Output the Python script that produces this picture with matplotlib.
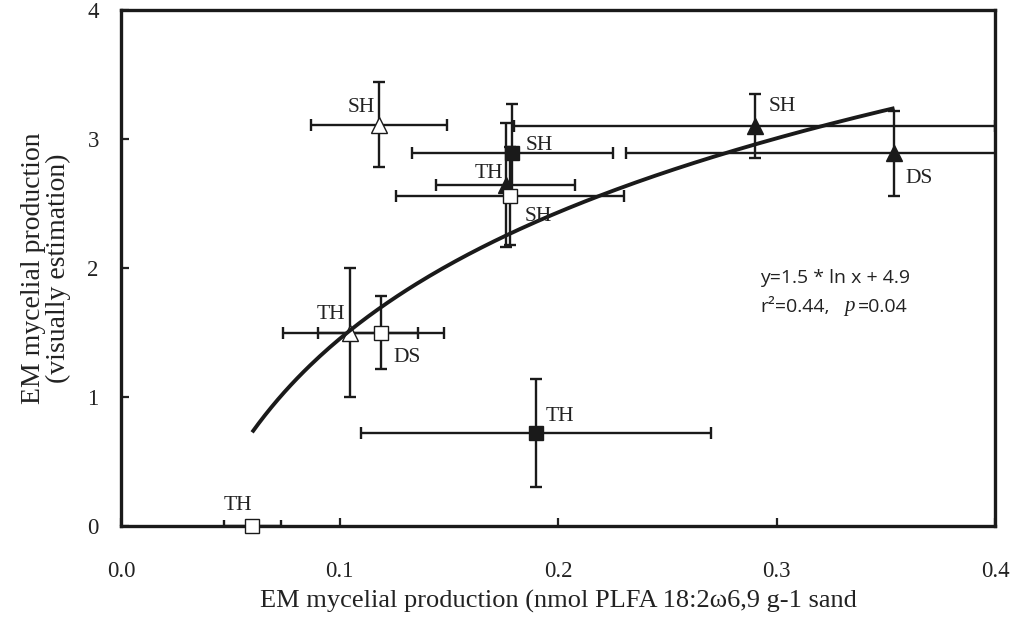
import numpy as np
import matplotlib
matplotlib.use("Agg")
import matplotlib.pyplot as plt

# ---- data ----
x_vals = [0.118, 0.179, 0.176, 0.178, 0.105, 0.119, 0.060, 0.190, 0.290, 0.354]
y_vals = [3.11, 2.89, 2.645, 2.56, 1.50, 1.50, 0.00, 0.72, 3.10, 2.89]
x_err = [0.031, 0.046, 0.032, 0.052, 0.031, 0.029, 0.013, 0.080, 0.110, 0.123]
y_err = [0.33, 0.38, 0.48, 0.38, 0.50, 0.28, 0.00, 0.42, 0.25, 0.33]
labels = ["SH", "SH", "TH", "SH", "TH", "DS", "TH", "TH", "SH", "DS"]
marker_kind = ["^", "s", "^", "s", "^", "s", "s", "s", "^", "^"]
filled = [False, True, True, False, False, False, False, True, True, True]

# fitted log curve (as drawn)
fit_a, fit_b = 1.416, 4.71
fit_xmin, fit_xmax = 0.060, 0.354

x_ticks = [0.0, 0.1, 0.2, 0.3, 0.4]
y_ticks = [0, 1, 2, 3, 4]

# label offsets (pixels) - style/position only
label_offsets = [(-18, 17), (27, 8), (-17, 11), (28, -21), (-20, 18),
                 (26, -25), (-14, 21), (24, 17), (28, 20), (25, -25)]

fig = plt.figure(figsize=(10.19, 6.18), dpi=100)
ax = fig.add_axes([121/1019, 1-526/618, (995-121)/1019, (526-10)/618])

serif = ["Liberation Serif", "DejaVu Serif"]
sans = ["Open Sans", "DejaVu Sans"]
ink = "#1a1a1a"
txt = "#222222"

for i in range(len(x_vals)):
    fc = ink if filled[i] else "white"
    ms = 11 if marker_kind[i] == "^" else 9.5
    ax.errorbar(x_vals[i], y_vals[i], xerr=x_err[i] if x_err[i] > 0 else None,
                yerr=y_err[i] if y_err[i] > 0 else None,
                fmt="none", ecolor=ink, elinewidth=1.7, capsize=4,
                capthick=1.7, zorder=2)
    ax.plot(x_vals[i], y_vals[i], marker=marker_kind[i], markersize=ms,
            markerfacecolor=fc, markeredgecolor=ink, markeredgewidth=1.0,
            linestyle="none", zorder=3, clip_on=False)
    ax.annotate(labels[i], (x_vals[i], y_vals[i]), xytext=label_offsets[i],
                textcoords="offset pixels", ha="center", va="center",
                fontsize=15.5, family=serif, color=txt, zorder=5)

xx = np.linspace(fit_xmin, fit_xmax, 200)
ax.plot(xx, fit_a * np.log(xx) + fit_b, color=ink, lw=2.8, zorder=4,
        solid_capstyle="butt")

ax.text(0.2925, 1.92, "y=1.5 * ln x + 4.9", fontsize=14, family=sans,
        color=txt, va="center", ha="left")
ax.text(0.2925, 1.70, "r\u00b2=0.44,", fontsize=14, family=sans,
        color=txt, va="center", ha="left")
ax.text(0.3312, 1.70, "p", fontsize=15, family=serif, style="italic",
        color=txt, va="center", ha="left")
ax.text(0.3372, 1.70, "=0.04", fontsize=14, family=sans,
        color=txt, va="center", ha="left")

ax.set_xlim(0, 0.4)
ax.set_ylim(0, 4)
ax.set_xticks(x_ticks)
ax.set_xticklabels([f"{t:.1f}" for t in x_ticks], family=serif, fontsize=16.5)
ax.set_yticks(y_ticks)
ax.set_yticklabels([str(t) for t in y_ticks], family=serif, fontsize=16.5)
ax.tick_params(direction="in", length=6, width=1.6, colors=txt)
ax.tick_params(axis="x", pad=25)
ax.tick_params(axis="y", pad=16)
for s in ax.spines.values():
    s.set_linewidth(2.4)
    s.set_color(ink)

ax.set_xlabel("EM mycelial production (nmol PLFA 18:2\u03c96,9 g-1 sand", family=serif,
              fontsize=19, color=txt, labelpad=6)
ax.set_ylabel("EM mycelial production\n(visually estimation)", family=serif,
              fontsize=20, color=txt, labelpad=12, linespacing=0.95)

fig.savefig("out.png", dpi=100)
